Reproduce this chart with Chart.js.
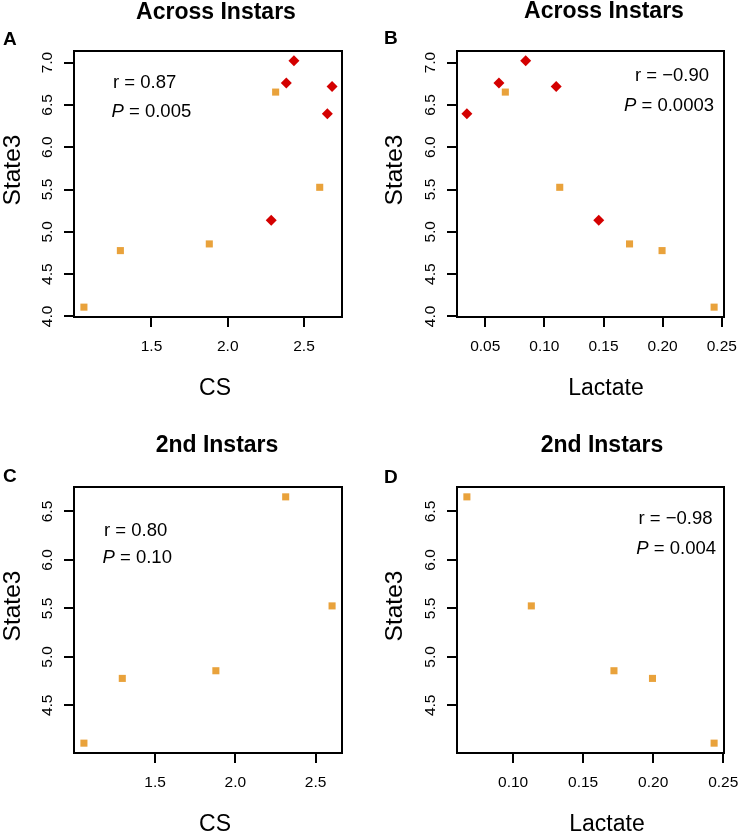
<!DOCTYPE html>
<html>
<head>
<meta charset="utf-8">
<script src="https://cdn.jsdelivr.net/npm/chart.js@4.4.1/dist/chart.umd.min.js"></script>
<style>
  body { margin: 0; background: #fff; }
  #wrap { position: relative; width: 740px; height: 836px; }
  #wrap canvas { position: absolute; left: 0; top: 0; }
</style>
</head>
<body>
<div id="wrap">
  <canvas id="pA" width="740" height="836"></canvas>
  <canvas id="pB" width="740" height="836"></canvas>
  <canvas id="pC" width="740" height="836"></canvas>
  <canvas id="pD" width="740" height="836"></canvas>
</div>
<script>
// 2nd instars (orange squares)
const secondCS = [1.057, 1.296, 1.879, 2.314, 2.603];
const secondLactate = [0.2435, 0.1995, 0.172, 0.067, 0.113];
const secondState3 = [4.11, 4.778, 4.857, 6.651, 5.526];

// later instars (red diamonds)
const laterCS = [2.434, 2.384, 2.684, 2.653, 2.285];
const laterLactate = [0.0842, 0.0616, 0.110, 0.0345, 0.146];
const laterState3 = [7.02, 6.757, 6.717, 6.395, 5.137];

// tick labels
const csTicks = [1.5, 2.0, 2.5];
const lactateTicksAll = [0.05, 0.10, 0.15, 0.20, 0.25];
const lactateTicks2nd = [0.10, 0.15, 0.20, 0.25];
const state3TicksAll = [4.0, 4.5, 5.0, 5.5, 6.0, 6.5, 7.0];
const state3Ticks2nd = [4.5, 5.0, 5.5, 6.0, 6.5];

const FONT = '"Liberation Sans", Arial, Helvetica, sans-serif';
const ORANGE = '#E9A23B';
const RED = '#D40000';
const Y_AXIS_W = 60;   // room kept for y tick labels (labels are clipped to it)
const X_AXIS_H = 50;

// R style axis range: data range widened by 4% each side
function rRange(vals) {
  const lo = Math.min(...vals), hi = Math.max(...vals);
  const d = (hi - lo) * 0.04;
  return [lo - d, hi + d];
}

function pts(xs, ys) {
  return xs.map((x, i) => ({ x: x, y: ys[i] }));
}

const textPlugin = {
  id: 'panelText',
  afterDraw(chart, args, o) {
    const ctx = chart.ctx;
    ctx.save();
    // box
    const a = chart.chartArea;
    ctx.strokeStyle = '#000';
    ctx.lineWidth = 2;
    ctx.strokeRect(a.left, a.top, a.right - a.left, a.bottom - a.top);

    ctx.fillStyle = '#000';
    ctx.textBaseline = 'middle';
    ctx.textAlign = 'center';
    ctx.font = 'bold 23px ' + FONT;
    ctx.fillText(o.title, o.titleX, o.titleY);

    ctx.textBaseline = 'alphabetic';
    ctx.textAlign = 'left';
    ctx.font = 'bold 19px ' + FONT;
    ctx.fillText(o.letter, o.letterX, o.letterY);

    ctx.textBaseline = 'middle';
    ctx.textAlign = 'center';
    ctx.font = '23px ' + FONT;
    ctx.fillText(o.xTitle, o.xTitleX, o.xTitleY);
    ctx.save();
    ctx.translate(o.yTitleX, o.yTitleY);
    ctx.rotate(-Math.PI / 2);
    ctx.font = '24.5px ' + FONT;
    ctx.fillText('State3', 0, 0);
    ctx.restore();

    // stats
    ctx.textBaseline = 'alphabetic';
    ctx.font = '18.5px ' + FONT;
    const rTxt = 'r = ' + o.r;
    const rest = ' = ' + o.p;
    ctx.textAlign = o.right ? 'right' : 'left';
    ctx.fillText(rTxt, o.rX, o.rY);
    ctx.font = 'italic 18.5px ' + FONT;
    const wP = ctx.measureText('P').width;
    ctx.font = '18.5px ' + FONT;
    const wRest = ctx.measureText(rest).width;
    let x0 = o.right ? o.pX - wP - wRest : o.pX;
    ctx.textAlign = 'left';
    ctx.font = 'italic 18.5px ' + FONT;
    ctx.fillText('P', x0, o.pY);
    ctx.font = '18.5px ' + FONT;
    ctx.fillText(rest, x0 + wP, o.pY);
    ctx.restore();
  }
};

function makePanel(id, p) {
  const [xMin, xMax] = rRange(p.xAll);
  const [yMin, yMax] = rRange(p.yAll);
  const datasets = [{
    data: pts(p.xs, p.ys),
    pointStyle: 'rect',
    pointRadius: 5,
    backgroundColor: ORANGE,
    borderColor: ORANGE,
    borderWidth: 0
  }];
  if (p.xs2) {
    datasets.push({
      data: pts(p.xs2, p.ys2),
      pointStyle: 'rectRot',
      pointRadius: 5.5,
      backgroundColor: RED,
      borderColor: RED,
      borderWidth: 0
    });
  }
  const gridOpts = { drawOnChartArea: false, drawTicks: true, tickLength: 10, lineWidth: 2, color: '#000' };
  return new Chart(document.getElementById(id), {
    type: 'scatter',
    data: { datasets: datasets },
    plugins: [textPlugin],
    options: {
      responsive: false,
      animation: false,
      events: [],
      layout: {
        autoPadding: false,
        padding: {
          left: p.box[0] - Y_AXIS_W, right: 740 - p.box[1],
          top: p.box[2], bottom: 836 - p.box[3] - X_AXIS_H
        }
      },
      plugins: {
        legend: { display: false },
        tooltip: { enabled: false },
        panelText: p.text
      },
      scales: {
        x: {
          type: 'linear', min: xMin, max: xMax,
          afterBuildTicks: s => { s.ticks = p.xTicks.map(v => ({ value: v })); },
          afterFit: s => { s.height = X_AXIS_H; s.paddingLeft = 0; s.paddingRight = 0; },
          grid: gridOpts,
          border: { display: false },
          ticks: {
            autoSkip: false, maxRotation: 0, color: '#000', padding: 10.5,
            font: { family: FONT, size: 15.5 },
            callback: v => v.toFixed(p.xDec)
          }
        },
        y: {
          type: 'linear', min: yMin, max: yMax,
          afterBuildTicks: s => { s.ticks = p.yTicks.map(v => ({ value: v })); },
          afterFit: s => { s.width = Y_AXIS_W; s.paddingTop = 0; s.paddingBottom = 0; },
          grid: gridOpts,
          border: { display: false },
          ticks: {
            autoSkip: false, minRotation: 90, maxRotation: 90, crossAlign: 'center',
            color: '#000', padding: 6,
            font: { family: FONT, size: 15.5 },
            callback: v => v.toFixed(1)
          }
        }
      }
    }
  });
}

makePanel('pA', {
  xs: secondCS, ys: secondState3, xs2: laterCS, ys2: laterState3,
  xAll: secondCS.concat(laterCS), yAll: secondState3.concat(laterState3),
  xTicks: csTicks, yTicks: state3TicksAll, xDec: 1,
  box: [74, 342, 51, 317],
  text: {
    title: 'Across Instars', titleX: 216, titleY: 13,
    letter: 'A', letterX: 3, letterY: 45,
    xTitle: 'CS', xTitleX: 215, xTitleY: 389,
    yTitleX: 13, yTitleY: 170,
    r: '0.87', p: '0.005', right: false,
    rX: 113, rY: 87.5, pX: 111.5, pY: 117
  }
});

makePanel('pB', {
  xs: secondLactate, ys: secondState3, xs2: laterLactate, ys2: laterState3,
  xAll: secondLactate.concat(laterLactate), yAll: secondState3.concat(laterState3),
  xTicks: lactateTicksAll, yTicks: state3TicksAll, xDec: 2,
  box: [457, 724, 51, 317],
  text: {
    title: 'Across Instars', titleX: 604, titleY: 12,
    letter: 'B', letterX: 384, letterY: 44,
    xTitle: 'Lactate', xTitleX: 606, xTitleY: 389,
    yTitleX: 395, yTitleY: 170,
    r: '\u22120.90', p: '0.0003', right: true,
    rX: 709, rY: 80.5, pX: 714, pY: 110.5
  }
});

makePanel('pC', {
  xs: secondCS, ys: secondState3,
  xAll: secondCS, yAll: secondState3,
  xTicks: csTicks, yTicks: state3Ticks2nd, xDec: 1,
  box: [74, 342, 487, 753],
  text: {
    title: '2nd Instars', titleX: 217, titleY: 446,
    letter: 'C', letterX: 3, letterY: 481.5,
    xTitle: 'CS', xTitleX: 215, xTitleY: 825,
    yTitleX: 13, yTitleY: 606,
    r: '0.80', p: '0.10', right: false,
    rX: 104, rY: 535.5, pX: 102.5, pY: 563
  }
});

makePanel('pD', {
  xs: secondLactate, ys: secondState3,
  xAll: secondLactate, yAll: secondState3,
  xTicks: lactateTicks2nd, yTicks: state3Ticks2nd, xDec: 2,
  box: [457, 724, 487, 753],
  text: {
    title: '2nd Instars', titleX: 602, titleY: 446,
    letter: 'D', letterX: 384, letterY: 483,
    xTitle: 'Lactate', xTitleX: 607, xTitleY: 825,
    yTitleX: 395, yTitleY: 606,
    r: '\u22120.98', p: '0.004', right: true,
    rX: 712.5, rY: 524, pX: 716, pY: 554
  }
});
</script>
</body>
</html>
